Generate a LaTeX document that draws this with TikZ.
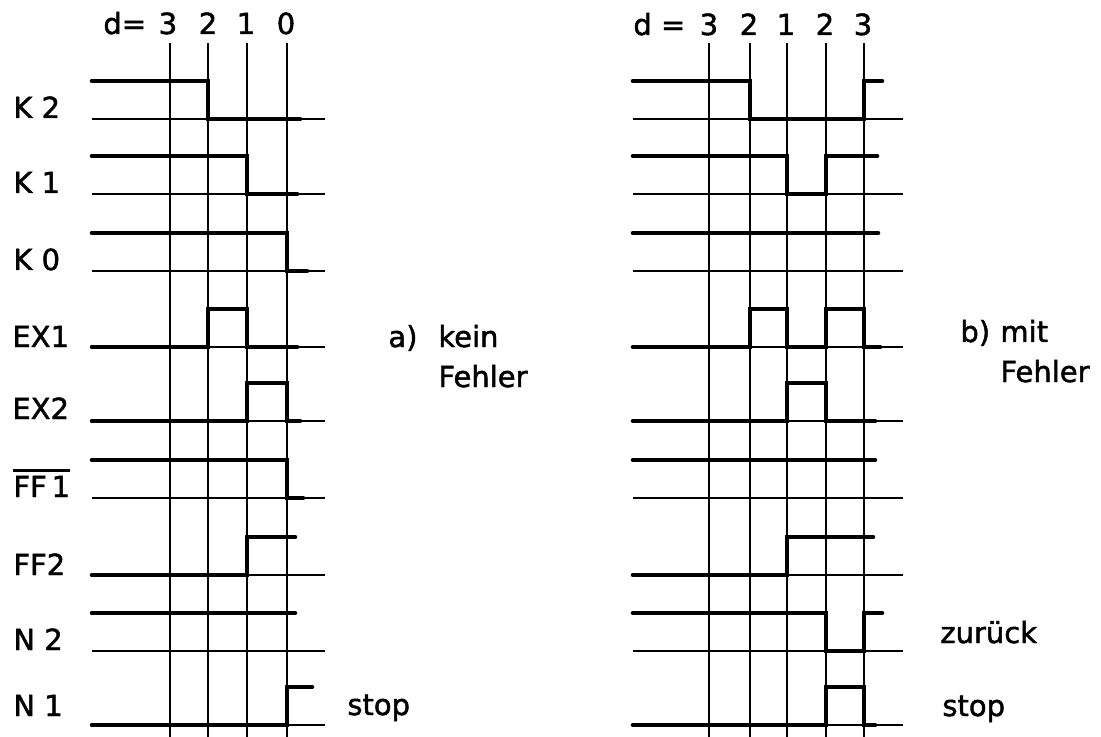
\documentclass[tikz,border=0pt]{standalone}
\usepackage{fontspec}
\setmainfont{DejaVu Sans}
\newfontfamily\sigfont[FakeBold=1.6]{DejaVu Sans}
\tikzset{
  gridline/.style={line width=1.2pt},
  sig/.style={line width=2.3pt, line cap=round, line join=miter},
  lbl/.style={anchor=base west, inner sep=0pt, font=\sigfont\fontsize{14.5}{17}\selectfont},
  num/.style={anchor=base, inner sep=0pt, font=\sigfont\fontsize{14.5}{17}\selectfont}
}

\begin{document}
\begin{tikzpicture}[x=0.5pt, y=-0.5pt]
	%%%%% START %%%%%
	\useasboundingbox (0, 0) rectangle (1101, 737);
	
	%%%%% a) kein Fehler %%%%%
	\node[lbl] (dA) at (103, 34) {d=};
	\node[num] (dA3) at (168, 34) {3};
	\node[num] (dA2) at (208, 34) {2};
	\node[num] (dA1) at (246, 34) {1};
	\node[num] (dA0) at (286, 34) {0};
	
	\draw[gridline] (170, 43) -- (170, 737);
	\draw[gridline] (208, 43) -- (208, 737);
	\draw[gridline] (247, 43) -- (247, 737);
	\draw[gridline] (287, 43) -- (287, 737);
	
	\draw[gridline] (92, 119) -- (325, 119);
	\draw[gridline] (92, 194) -- (325, 194);
	\draw[gridline] (92, 271) -- (325, 271);
	\draw[gridline] (92, 347) -- (325, 347);
	\draw[gridline] (92, 421) -- (325, 421);
	\draw[gridline] (92, 498) -- (325, 498);
	\draw[gridline] (92, 575) -- (325, 575);
	\draw[gridline] (92, 651) -- (325, 651);
	\draw[gridline] (92, 725) -- (325, 725);
	
	\node[lbl] (kTwo) at (13, 118) {K 2};
	\node[lbl] (kOne) at (13, 193) {K 1};
	\node[lbl] (kZero) at (13, 270) {K 0};
	\node[lbl] (exOne) at (12, 347) {EX1};
	\node[lbl] (exTwo) at (12, 419) {EX2};
	\node[lbl] (ffOne) at (13, 497) {FF\,1};
	\draw[line width=1.3pt] (ffOne.north west) ++(0, -5) -- ([yshift=2.5pt]ffOne.north east);
	\node[lbl] (ffTwo) at (13, 575) {FF2};
	\node[lbl] (nTwo) at (13, 650) {N 2};
	\node[lbl] (nOne) at (13, 716) {N 1};
	
	\draw[sig] (92, 81) -- (208, 81) -- (208, 119) -- (300, 119);
	\draw[sig] (92, 156) -- (247, 156) -- (247, 194) -- (297, 194);
	\draw[sig] (92, 233) -- (287, 233) -- (287, 271) -- (307, 271);
	\draw[sig] (92, 347) -- (208, 347) -- (208, 309) -- (247, 309) -- (247, 347) -- (297, 347);
	\draw[sig] (92, 421) -- (247, 421) -- (247, 383) -- (287, 383) -- (287, 421) -- (300, 421);
	\draw[sig] (92, 460) -- (287, 460) -- (287, 498) -- (303, 498);
	\draw[sig] (92, 575) -- (247, 575) -- (247, 537) -- (295, 537);
	\draw[sig] (92, 613) -- (295, 613);
	\draw[sig] (92, 725) -- (287, 725) -- (287, 687) -- (312, 687);
	
	\node[lbl] (capA) at (388, 347) {a)};
	\node[lbl] (kein) at (438, 347) {kein};
	\node[lbl] (fehlerA) at (438, 387) {Fehler};
	\node[lbl] (stopA) at (347, 715) {stop};
	
	%%%%% b) mit Fehler %%%%%
	\node[lbl] (dB) at (633, 35) {d =};
	\node[num] (dB3) at (709, 35) {3};
	\node[num] (dB2) at (749, 35) {2};
	\node[num] (dB1) at (786, 35) {1};
	\node[num] (dB2r) at (825, 35) {2};
	\node[num] (dB3r) at (863, 35) {3};
	
	\draw[gridline] (709, 43) -- (709, 737);
	\draw[gridline] (750, 43) -- (750, 737);
	\draw[gridline] (787, 43) -- (787, 737);
	\draw[gridline] (826, 43) -- (826, 737);
	\draw[gridline] (864, 43) -- (864, 737);
	
	\draw[gridline] (633, 119) -- (903, 119);
	\draw[gridline] (633, 194) -- (903, 194);
	\draw[gridline] (633, 271) -- (903, 271);
	\draw[gridline] (633, 347) -- (903, 347);
	\draw[gridline] (633, 421) -- (903, 421);
	\draw[gridline] (633, 498) -- (903, 498);
	\draw[gridline] (633, 575) -- (903, 575);
	\draw[gridline] (633, 651) -- (903, 651);
	\draw[gridline] (633, 725) -- (903, 725);
	
	\draw[sig] (633, 81) -- (750, 81) -- (750, 119) -- (864, 119) -- (864, 81) -- (882, 81);
	\draw[sig] (633, 156) -- (787, 156) -- (787, 194) -- (826, 194) -- (826, 156) -- (877, 156);
	\draw[sig] (633, 233) -- (878, 233);
	\draw[sig] (633, 347) -- (750, 347) -- (750, 309) -- (787, 309) -- (787, 347) -- (826, 347) -- (826, 309) -- (864, 309) -- (864, 347) -- (880, 347);
	\draw[sig] (633, 421) -- (787, 421) -- (787, 383) -- (826, 383) -- (826, 421) -- (875, 421);
	\draw[sig] (633, 460) -- (875, 460);
	\draw[sig] (633, 575) -- (787, 575) -- (787, 537) -- (873, 537);
	\draw[sig] (633, 613) -- (826, 613) -- (826, 651) -- (864, 651) -- (864, 613) -- (882, 613);
	\draw[sig] (633, 725) -- (826, 725) -- (826, 687) -- (864, 687) -- (864, 725) -- (875, 725);
	
	\node[lbl] (capB) at (960, 342) {b)};
	\node[lbl] (mit) at (1000, 342) {mit};
	\node[lbl] (fehlerB) at (1000, 382) {Fehler};
	\node[lbl] (zurueck) at (940, 643) {zurück};
	\node[lbl] (stopB) at (942, 716) {stop};
	
	%%%%% END %%%%%
\end{tikzpicture}
\end{document}
